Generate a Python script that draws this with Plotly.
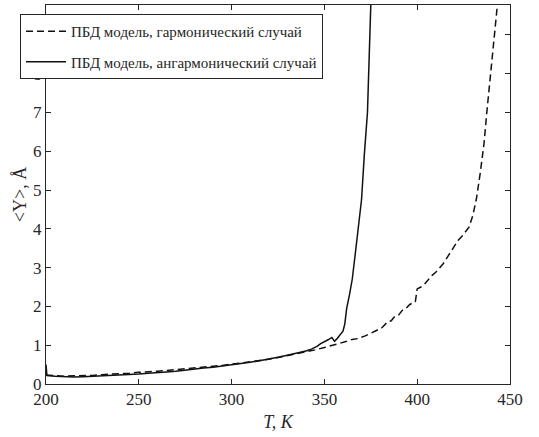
import plotly.graph_objects as go

# Mean base-pair opening <Y> versus temperature for the PBD model
T_harm = [200, 205, 210, 215, 220, 225, 230, 235, 240, 245, 250, 255, 260, 265, 270,
          275, 280, 285, 290, 295, 300, 305, 310, 315, 320, 325, 330, 335, 340, 345,
          350, 355, 358, 362, 365, 368, 372, 375, 378, 381, 384, 386, 388, 390, 392,
          394, 396, 398, 399, 400, 402, 404, 406, 408, 410, 412, 414, 416, 418, 420,
          422, 424, 426, 428, 430, 432, 434, 436, 437.5, 439.5, 441.5, 443.2]
Y_harm = [0.23, 0.21, 0.20, 0.21, 0.21, 0.22, 0.24, 0.25, 0.27, 0.28, 0.30, 0.31, 0.33, 0.35, 0.37,
          0.39, 0.41, 0.43, 0.46, 0.48, 0.51, 0.54, 0.57, 0.60, 0.64, 0.68, 0.73, 0.77, 0.83, 0.88,
          0.94, 1.00, 1.05, 1.10, 1.15, 1.17, 1.24, 1.30, 1.38, 1.45, 1.60, 1.63, 1.75, 1.78, 1.90,
          1.95, 2.05, 2.10, 2.12, 2.45, 2.50, 2.58, 2.70, 2.80, 2.88, 2.98, 3.10, 3.25, 3.40, 3.55,
          3.70, 3.80, 3.92, 4.05, 4.35, 4.80, 5.45, 6.20, 7.00, 8.00, 9.00, 9.77]

T_anh = [200, 200.5, 205, 210, 215, 220, 225, 230, 235, 240, 245, 250, 255, 260, 265, 270,
         275, 280, 285, 290, 295, 300, 305, 310, 315, 320, 325, 330, 335, 340, 343,
         346, 348, 350, 352, 354, 355.5, 357, 358.5, 360, 361, 362, 363.5, 365, 366.5,
         368, 370, 371.5, 373.2, 375]
Y_anh = [0.50, 0.22, 0.20, 0.19, 0.18, 0.19, 0.20, 0.21, 0.22, 0.23, 0.25, 0.26, 0.28, 0.29, 0.31, 0.33,
         0.36, 0.38, 0.41, 0.43, 0.46, 0.49, 0.52, 0.56, 0.60, 0.64, 0.69, 0.74, 0.79, 0.85, 0.90,
         0.97, 1.04, 1.08, 1.14, 1.20, 1.10, 1.18, 1.26, 1.36, 1.55, 1.95, 2.30, 2.70, 3.30,
         4.00, 4.75, 5.90, 7.00, 9.77]

x_ticks = [200, 250, 300, 350, 400, 450]
y_ticks = [0, 1, 2, 3, 4, 5, 6, 7, 8, 9]

names = ["ПБД модель, гармонический случай", "ПБД модель, ангармонический случай"]

ink = "#262626"
serif = "Liberation Serif, Times New Roman, serif"

fig = go.Figure()
fig.add_trace(go.Scatter(x=T_harm, y=Y_harm, mode="lines", name=names[0], legendgroup="h",
                         line=dict(color="#111111", width=1.5, dash="7px,4px")))
fig.add_trace(go.Scatter(x=T_anh, y=Y_anh, mode="lines", name=names[1], legendgroup="a",
                         line=dict(color="#111111", width=1.5)))

axis_common = dict(showline=True, linecolor=ink, linewidth=1, mirror="ticks",
                   ticks="inside", ticklen=5, tickcolor=ink, showgrid=False,
                   zeroline=False, tickfont=dict(family=serif, size=17, color=ink))

fig.update_xaxes(range=[200, 450], tickvals=x_ticks,
                 title=dict(text="<i>T, K</i>", font=dict(family=serif, size=18, color=ink),
                            standoff=6),
                 **axis_common)
fig.update_yaxes(range=[0, 9.77], tickvals=y_ticks,
                 title=dict(text="&lt;Y&gt;, Å", font=dict(family=serif, size=18, color=ink),
                            standoff=1),
                 **axis_common)

fig.update_layout(
    width=539, height=437,
    margin=dict(l=46, r=29, t=5, b=53),
    paper_bgcolor="white", plot_bgcolor="white",
    showlegend=True,
    legend=dict(x=-0.056, y=0.976, xanchor="left", yanchor="top",
                bgcolor="white", bordercolor=ink, borderwidth=1,
                font=dict(family=serif, size=15, color=ink),
                tracegroupgap=8, itemwidth=40),
)

fig.write_html("out.html")
